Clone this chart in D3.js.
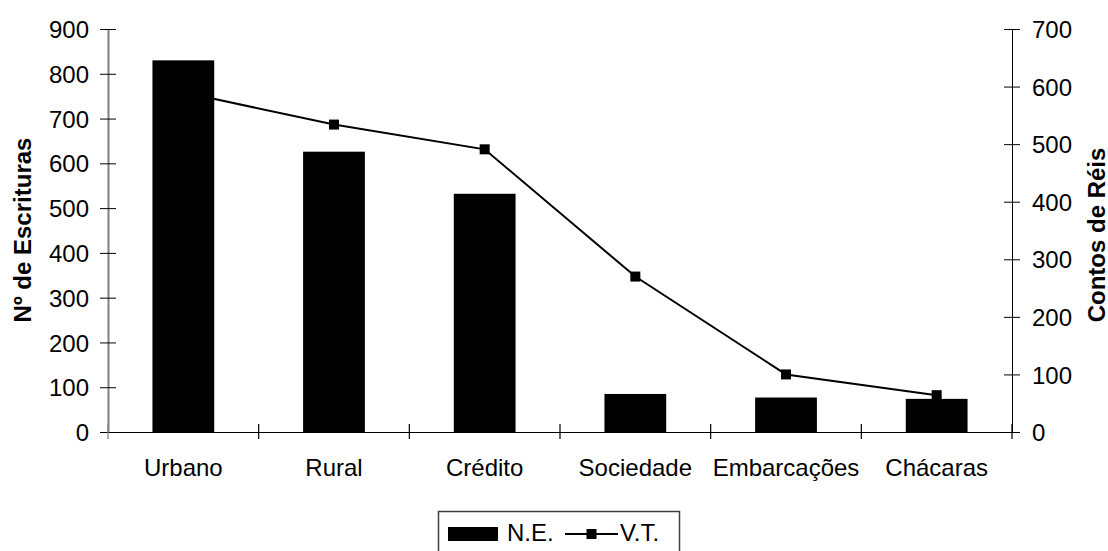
<!DOCTYPE html>
<html>
<head>
<meta charset="utf-8">
<script src="https://cdn.jsdelivr.net/npm/d3@7/dist/d3.min.js"></script>
<style>
  html, body { margin: 0; padding: 0; background: #fff; }
  svg { display: block; }
  text { font-family: "Liberation Sans", Arial, sans-serif; fill: #000; }
</style>
</head>
<body>
<svg id="chart" width="1108" height="551"></svg>
<script>
const categories = ["Urbano", "Rural", "Crédito", "Sociedade", "Embarcações", "Chácaras"];
const neValues = [830, 626, 532, 85, 77, 74];
const vtValues = [590, 534, 491, 270, 100, 64];
const leftTicks = [0, 100, 200, 300, 400, 500, 600, 700, 800, 900];
const rightTicks = [0, 100, 200, 300, 400, 500, 600, 700];
const leftTitle = "Nº de Escrituras";
const rightTitle = "Contos de Réis";
const seriesNames = ["N.E.", "V.T."];

const svg = d3.select("#chart");
const W = 1108, H = 551;
const m = { left: 108, right: 1012, top: 29, bottom: 432 };

const x = d3.scaleBand().domain(categories).range([m.left, m.right]).padding(0);
const yL = d3.scaleLinear().domain([0, 900]).range([m.bottom, m.top]);
const yR = d3.scaleLinear().domain([0, 700]).range([m.bottom, m.top]);
const barW = x.bandwidth() * 0.41;
const FS = 24;

// Bars
svg.append("g").selectAll("rect").data(categories).join("rect")
  .attr("x", d => x(d) + x.bandwidth() / 2 - barW / 2)
  .attr("y", (d, i) => yL(neValues[i]))
  .attr("width", barW)
  .attr("height", (d, i) => yL(0) - yL(neValues[i]))
  .attr("fill", "#000");

// Left axis
const gL = svg.append("g").attr("transform", `translate(${m.left},0)`)
  .call(d3.axisLeft(yL).tickValues(leftTicks).tickSize(0).tickFormat(d3.format("d")));
gL.select(".domain").attr("stroke", "#808080").attr("stroke-width", 2);
gL.selectAll(".tick line").attr("x1", -8).attr("x2", 8).attr("stroke", "#000");
gL.selectAll(".tick text").attr("x", -19).attr("dy", "0.36em")
  .style("font-size", FS + "px").style("font-family", '"Liberation Sans", Arial, sans-serif');

// Right axis
const gR = svg.append("g").attr("transform", `translate(${m.right},0)`)
  .call(d3.axisRight(yR).tickValues(rightTicks).tickSize(0).tickFormat(d3.format("d")));
gR.select(".domain").attr("stroke", "#000").attr("stroke-width", 1);
gR.selectAll(".tick line").attr("x1", -8).attr("x2", 8).attr("stroke", "#000");
gR.selectAll(".tick text").attr("x", 20).attr("dy", "0.36em")
  .style("font-size", FS + "px").style("font-family", '"Liberation Sans", Arial, sans-serif');

// Bottom axis
const gB = svg.append("g").attr("transform", `translate(0,${m.bottom})`)
  .call(d3.axisBottom(x).tickSize(0));
gB.select(".domain").attr("stroke", "#000").attr("stroke-width", 1.2);
gB.selectAll(".tick text").attr("y", 44).attr("dy", 0)
  .style("font-size", FS + "px").style("font-family", '"Liberation Sans", Arial, sans-serif');
const bounds = categories.map(d => x(d)).concat([x.range()[1]]);
gB.append("g").selectAll("line").data(bounds).join("line")
  .attr("x1", d => d).attr("x2", d => d)
  .attr("y1", -8).attr("y2", 7)
  .attr("stroke", (d, i) => i === 0 ? "#808080" : "#000").attr("stroke-width", 1.2);

// Line series
const cx = d => x(d) + x.bandwidth() / 2;
const line = d3.line().x((d, i) => cx(categories[i])).y(d => yR(d));
svg.append("path").datum(vtValues)
  .attr("d", line).attr("fill", "none").attr("stroke", "#000").attr("stroke-width", 2);
const ms = 10;
svg.append("g").selectAll("rect").data(vtValues).join("rect")
  .attr("x", (d, i) => cx(categories[i]) - ms / 2)
  .attr("y", d => yR(d) - ms / 2)
  .attr("width", ms).attr("height", ms).attr("fill", "#000");

// Axis titles
svg.append("text")
  .attr("transform", "translate(22,230) rotate(-90)")
  .attr("text-anchor", "middle").attr("dominant-baseline", "central")
  .style("font-size", FS + "px").style("font-weight", "bold")
  .text(leftTitle);
svg.append("text")
  .attr("transform", "translate(1096,235) rotate(-90)")
  .attr("text-anchor", "middle").attr("dominant-baseline", "central")
  .style("font-size", FS + "px").style("font-weight", "bold")
  .text(rightTitle);

// Legend
const lg = svg.append("g");
lg.append("rect").attr("x", 438.5).attr("y", 511.5).attr("width", 241).attr("height", 60)
  .attr("fill", "#fff").attr("stroke", "#404040").attr("stroke-width", 1.5);
lg.append("rect").attr("x", 448).attr("y", 527).attr("width", 50).attr("height", 14).attr("fill", "#000");
lg.append("text").attr("x", 507).attr("y", 541).style("font-size", FS + "px").text(seriesNames[0]);
lg.append("line").attr("x1", 565).attr("x2", 618).attr("y1", 534).attr("y2", 534)
  .attr("stroke", "#000").attr("stroke-width", 2);
lg.append("rect").attr("x", 591.5 - ms / 2).attr("y", 534 - ms / 2).attr("width", ms).attr("height", ms).attr("fill", "#000");
lg.append("text").attr("x", 620).attr("y", 541).style("font-size", FS + "px").text(seriesNames[1]);
</script>
</body>
</html>
